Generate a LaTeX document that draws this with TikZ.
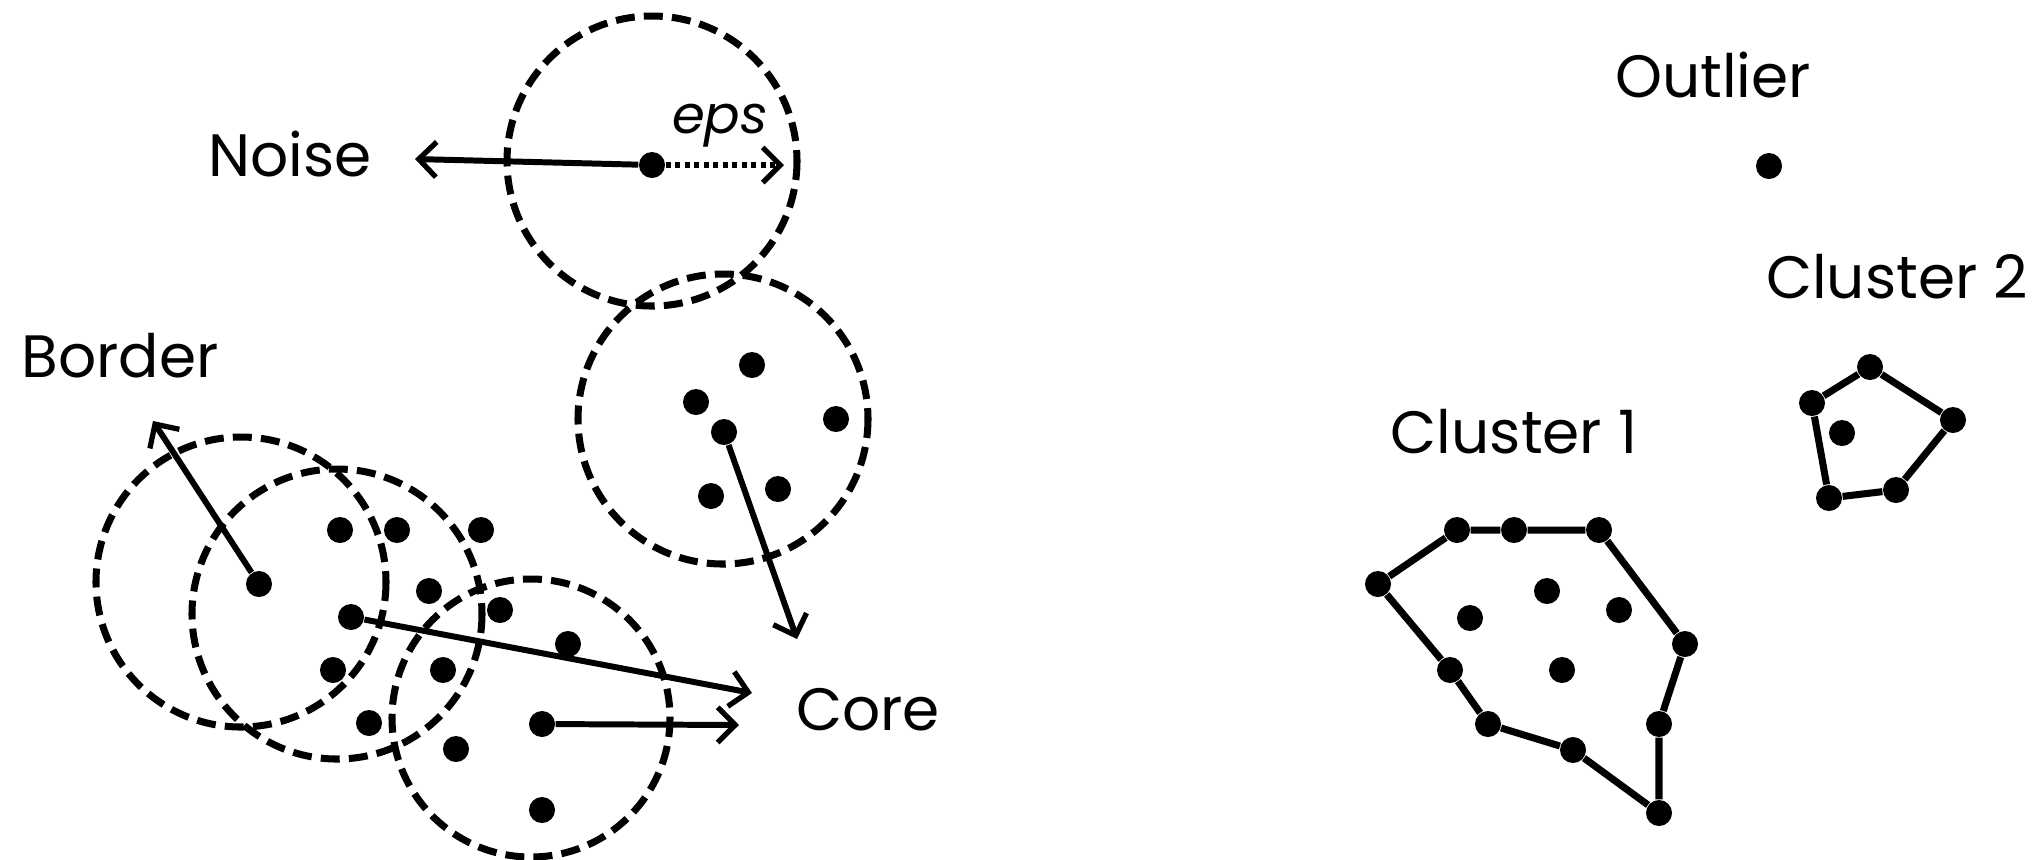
\documentclass[tikz,border=0pt]{standalone}
\usepackage{fontspec}
\setmainfont{Poppins}
\usetikzlibrary{arrows.meta}
\begin{document}
\begin{tikzpicture}[x=0.01cm,y=-0.01cm,
  pt/.style={circle,fill=black,inner sep=0pt,minimum size=0.26cm},
  reach/.style={line width=2pt,dash pattern=on 5.4pt off 2.6pt},
  barb/.style={-{Straight Barb[length=5pt,width=10pt,line width=1.5pt]}},
  ptr/.style={line width=1.7pt,barb},
  hull/.style={line width=2pt},
  lbl/.style={font=\fontsize{17}{20}\selectfont,inner sep=0pt}]
\useasboundingbox (0,0) rectangle (2032,859);

% eps-neighbourhoods
\draw[reach] (652,161) circle (145);
\draw[reach] (723,419) circle (145);
\draw[reach] (241,582) circle (145);
\draw[reach] (337,614) circle (145);
\draw[reach] (531,718) circle (139);

% noise point and its radius
\node[pt] (noise) at (652,165) {};
\coordinate (noiseTip) at (415,159);
\coordinate (epsTip) at (784,165);
\draw[ptr] (noise) -- (noiseTip);
\draw[line width=1.7pt,dash pattern=on 1.5pt off 1.2pt,barb] (noise) -- (epsTip);
\node[lbl,font=\fontsize{15}{18}\selectfont\itshape] (eps) at (720,126) {eps};
\node[lbl] (noiseLbl) at (290,154) {Noise};

% core points
\node[pt] (c1) at (724,432) {};
\node[pt] at (752,365) {};
\node[pt] at (696,402) {};
\node[pt] at (836,419) {};
\node[pt] at (711,496) {};
\node[pt] at (778,489) {};
\coordinate (c1Tip) at (797,639);
\draw[ptr] (c1) -- (c1Tip);

\node[pt] (b) at (259,584) {};
\coordinate (bTip) at (153,421);
\draw[ptr] (b) -- (bTip);
\node[lbl] (borderLbl) at (120,356) {Border};

\node[pt] (c2) at (351,617) {};
\coordinate (c2Tip) at (752,693);
\draw[ptr] (c2) -- (c2Tip);

\node[pt] (c3) at (542,724) {};
\coordinate (c3Tip) at (739,725);
\draw[ptr] (c3) -- (c3Tip);

\node[pt] at (340,530) {};
\node[pt] at (397,530) {};
\node[pt] at (481,530) {};
\node[pt] at (429,591) {};
\node[pt] at (500,610) {};
\node[pt] at (333,670) {};
\node[pt] at (443,670) {};
\node[pt] at (369,723) {};
\node[pt] at (456,749) {};
\node[pt] at (542,810) {};
\node[pt] at (568,644) {};
\node[lbl] (coreLbl) at (868,710) {Core};

% result: clusters and outlier
\node[lbl] (outLbl) at (1713,75) {Outlier};
\node[pt] (out) at (1769,166) {};

\node[lbl] (cl2Lbl) at (1897,277) {Cluster 2};
\node[pt] (p1) at (1870,367) {};
\node[pt] (p2) at (1953,420) {};
\node[pt] (p3) at (1896,490) {};
\node[pt] (p4) at (1829,498) {};
\node[pt] (p5) at (1812,403) {};
\node[pt] at (1842,433) {};
\draw[hull] (p1) -- (p2) -- (p3) -- (p4) -- (p5) -- (p1);

\node[lbl] (cl1Lbl) at (1514,432) {Cluster 1};
\node[pt] (q1) at (1378,584) {};
\node[pt] (q2) at (1457,530) {};
\node[pt] (q3) at (1514,530) {};
\node[pt] (q4) at (1599,530) {};
\node[pt] (q5) at (1685,644) {};
\node[pt] (q6) at (1659,724) {};
\node[pt] (q7) at (1659,813) {};
\node[pt] (q8) at (1573,750) {};
\node[pt] (q9) at (1488,724) {};
\node[pt] (q10) at (1450,670) {};
\node[pt] at (1470,618) {};
\node[pt] at (1547,591) {};
\node[pt] at (1619,610) {};
\node[pt] at (1562,670) {};
\draw[hull] (q1) -- (q2) -- (q3) -- (q4) -- (q5) -- (q6) -- (q7) -- (q8) -- (q9) -- (q10) -- (q1);
\end{tikzpicture}
\end{document}
